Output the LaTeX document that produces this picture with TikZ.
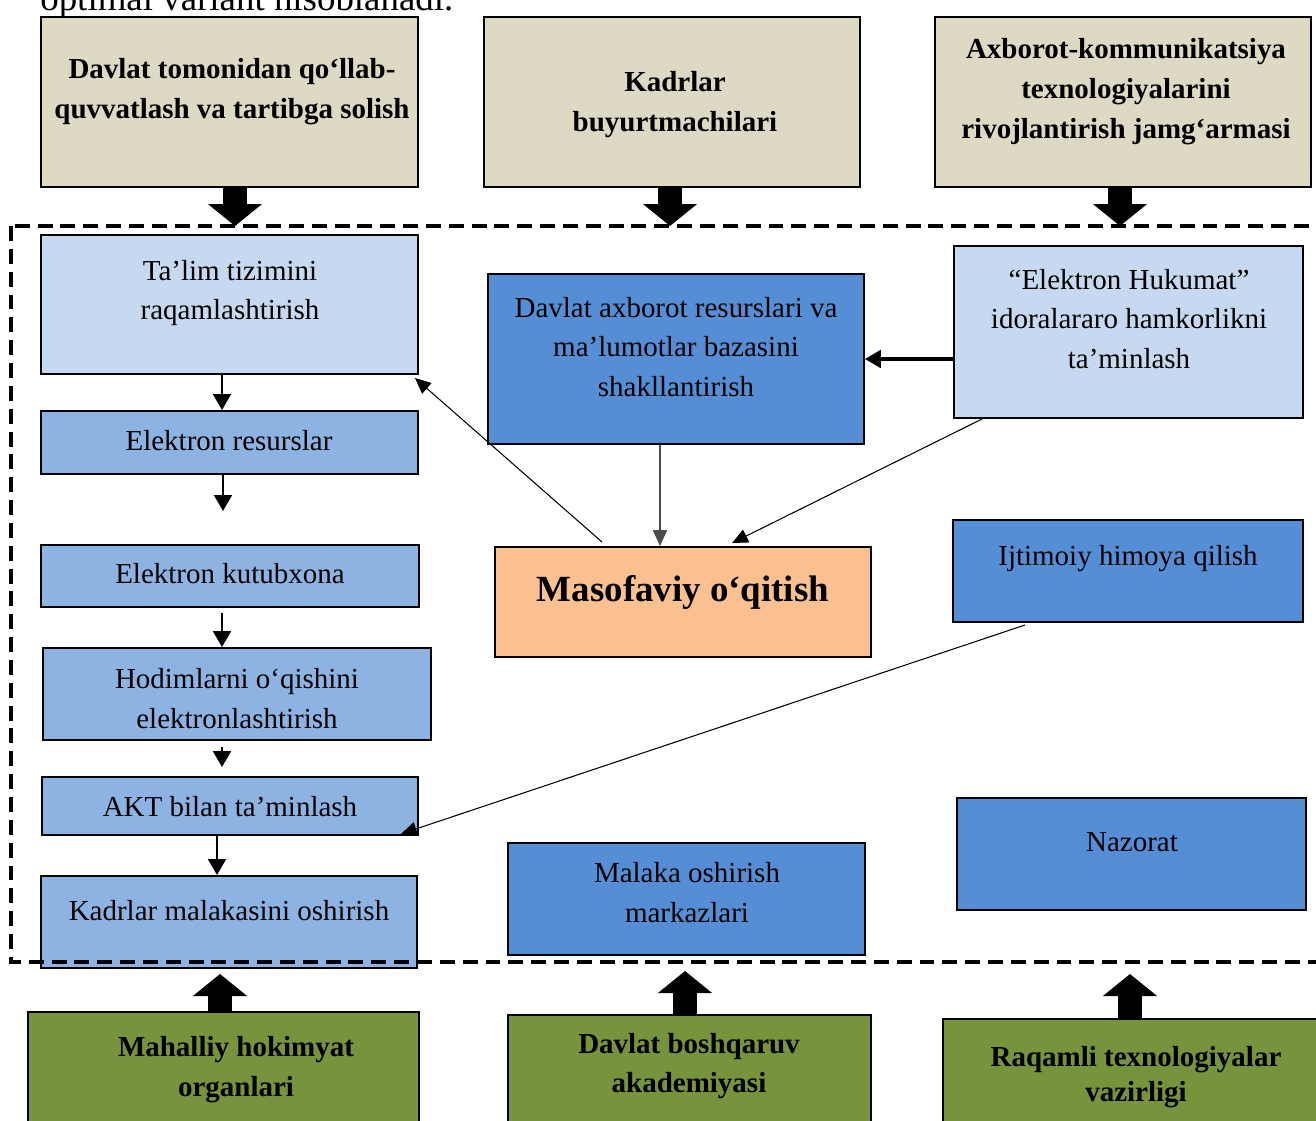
\documentclass[tikz,border=0pt]{standalone}
\usepackage{fontspec}
\setmainfont{Liberation Serif}
\usetikzlibrary{arrows.meta,fit,calc}

\definecolor{tanfill}{HTML}{DDD9C3}
\definecolor{palefill}{HTML}{C6D9F1}
\definecolor{midfill}{HTML}{8DB3E2}
\definecolor{bluefill}{HTML}{558ED5}
\definecolor{orangefill}{HTML}{FAC090}
\definecolor{greenfill}{HTML}{77933C}

\begin{document}
\begin{tikzpicture}[x=0.02cm,y=-0.02cm,
      box/.style={draw,line width=1.1pt,inner sep=0pt},
      tanbox/.style={box,fill=tanfill},
      palebox/.style={box,fill=palefill},
      midbox/.style={box,fill=midfill},
      bluebox/.style={box,fill=bluefill},
      orangebox/.style={box,fill=orangefill},
      greenbox/.style={box,fill=greenfill},
      txt/.style={align=center,inner sep=0pt,font=\fontsize{16.5}{22.7}\selectfont},
      btxt/.style={txt,font=\fontsize{16.5}{22.7}\selectfont\bfseries},
      frame/.style={line width=2pt,dash pattern=on 8.5pt off 4.5pt},
      flow/.style={line width=1.5pt,-{Triangle[width=10pt,length=9pt]}},
      thickflow/.style={line width=1.8pt,-{Triangle[width=10pt,length=9pt]}},
      thinflow/.style={line width=0.6pt,-{Triangle[width=8pt,length=9pt]}},
      bigarrow/.style={line width=0.48cm,-{Triangle[width=1.06cm,length=0.44cm]}}]
  \clip (0,0) rectangle (1316,1120);

  % text above the diagram
  \node[anchor=base west,inner sep=0pt,font=\fontsize{21}{25}\selectfont] (izoh) at (40,10) {optimal variant hisoblanadi.};

  % top row
  \node[tanbox,fit={(41,17) (418,187)}] (davlat) {};
  \node[btxt] (davlatT) at (232,92) {Davlat tomonidan qo‘llab-\\quvvatlash va tartibga solish};
  \node[tanbox,fit={(484,17) (860,187)}] (kadr) {};
  \node[btxt] (kadrT) at (675,105) {Kadrlar\\buyurtmachilari};
  \node[tanbox,fit={(935,17) (1311,187)}] (jamg) {};
  \node[btxt] (jamgT) at (1126,92) {Axborot-kommunikatsiya\\texnologiyalarini\\rivojlantirish jamg‘armasi};

  % left column
  \node[palebox,fit={(41,235) (418,374)}] (talim) {};
  \node[txt] (talimT) at (230,293) {Ta’lim tizimini\\raqamlashtirish};
  \node[midbox,fit={(41,411) (418,474)}] (resurs) {};
  \node[txt] (resursT) at (229,441) {Elektron resurslar};
  \node[midbox,fit={(41,545) (419,607)}] (kutub) {};
  \node[txt] (kutubT) at (230,574) {Elektron kutubxona};
  \node[midbox,fit={(43,648) (431,740)}] (hodim) {};
  \node[txt] (hodimT) at (237,699) {Hodimlarni o‘qishini\\elektronlashtirish};
  \node[midbox,fit={(42,777) (418,835)}] (akt) {};
  \node[txt] (aktT) at (230,807) {AKT bilan ta’minlash};
  \node[midbox,fit={(41,876) (417,968)}] (malaka) {};
  \node[txt] (malakaT) at (229,911) {Kadrlar malakasini oshirish};

  % middle column
  \node[bluebox,fit={(488,274) (864,444)}] (baza) {};
  \node[txt] (bazaT) at (676,347) {Davlat axborot resurslari va\\ma’lumotlar bazasini\\shakllantirish};
  \node[orangebox,fit={(495,547) (871,657)}] (masof) {};
  \node[btxt,font=\fontsize{21}{25}\selectfont\bfseries] (masofT) at (683,592) {Masofaviy o‘qitish};
  \node[bluebox,fit={(508,843) (865,955)}] (markaz) {};
  \node[txt] (markazT) at (687,893) {Malaka oshirish\\markazlari};

  % right column
  \node[palebox,fit={(954,246) (1303,418)}] (hukumat) {};
  \node[txt] (hukumatT) at (1129,319) {“Elektron Hukumat”\\idoralararo hamkorlikni\\ta’minlash};
  \node[bluebox,fit={(953,520) (1303,622)}] (himoya) {};
  \node[txt] (himoyaT) at (1128,559) {Ijtimoiy himoya qilish};
  \node[bluebox,fit={(957,798) (1306,910)}] (nazorat) {};
  \node[txt] (nazoratT) at (1132,842) {Nazorat};

  % bottom row
  \node[greenbox,fit={(28,1012) (419,1140)}] (mahal) {};
  \node[btxt] (mahalT) at (236,1070) {Mahalliy hokimyat\\organlari};
  \node[greenbox,fit={(508,1015) (871,1140)}] (akad) {};
  \node[btxt] (akadT) at (689,1066) {Davlat boshqaruv\\akademiyasi};
  \node[greenbox,fit={(943,1019) (1340,1140)}] (vazir) {};
  \node[btxt,font=\fontsize{16.5}{19.8}\selectfont\bfseries] (vazirT) at (1136,1077) {Raqamli texnologiyalar\\vazirligi};

  % dashed frame
  \draw[frame] (11,226) rectangle (1340,962);

  % left column arrows
  \coordinate (colx) at (222,0);
  \coordinate (bosh) at (223,511);
  \draw[flow] (talim.south -| colx) -- (resurs.north -| colx);
  \draw[flow] (resurs.south -| bosh) -- (bosh);
  \draw[flow,shorten <=0.1cm] (kutub.south -| colx) -- (hodim.north -| colx);
  \draw[flow,shorten <=0.12cm,shorten >=0.18cm] (hodim.south -| colx) -- (akt.north -| colx);
  \draw[flow] ([xshift=-0.1cm]akt.south -| colx) -- ([xshift=-0.1cm]malaka.north -| colx);

  % links around Masofaviy
  \draw[thickflow] (hukumat.west |- baza.east) -- (baza.east);
  \draw[thinflow,draw=black!70] ($(baza.south)+(-16,0)$) -- ($(masof.north)+(-23,0)$);
  \draw[thinflow] ($(masof.north west)+(108,-4)$) -- ($(talim.south east)+(-4,3)$);
  \draw[thinflow] ($(hukumat.south west)+(29,0)$) -- ($(masof.north west)+(238,-3)$);
  \draw[thinflow] ($(himoya.south west)+(73,2)$) -- ($(akt.south east)+(-18,-2)$);

  % block arrows
  \coordinate (in1) at (235,226);
  \coordinate (in2) at (670,226);
  \coordinate (in3) at (1120,226);
  \draw[bigarrow] (davlat.south -| in1) -- (in1);
  \draw[bigarrow] (kadr.south -| in2) -- (in2);
  \draw[bigarrow] (jamg.south -| in3) -- (in3);
  \coordinate (up1) at (220,974);
  \coordinate (up2) at (685,971);
  \coordinate (up3) at (1130,974);
  \draw[bigarrow] (mahal.north -| up1) -- (up1);
  \draw[bigarrow] (akad.north -| up2) -- (up2);
  \draw[bigarrow] (vazir.north -| up3) -- (up3);
\end{tikzpicture}
\end{document}
